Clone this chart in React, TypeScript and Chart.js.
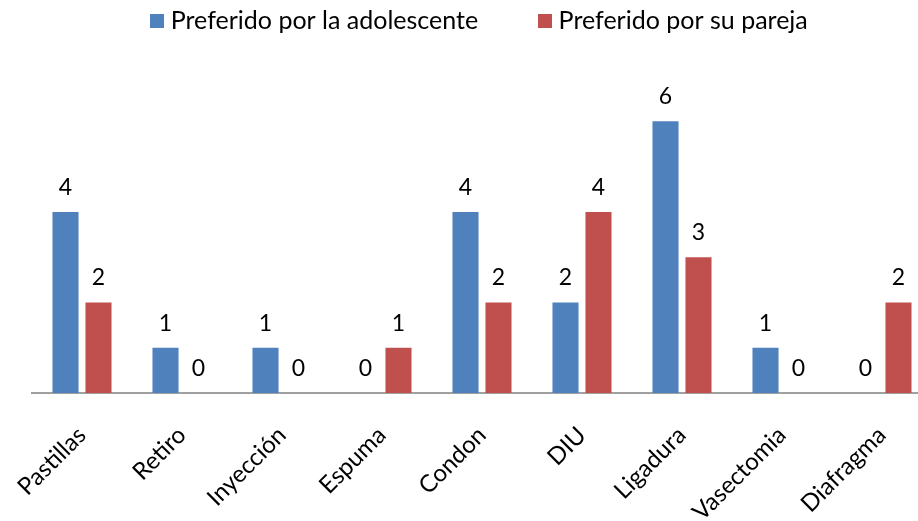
import React, { useEffect, useRef } from "react";
import { Chart, registerables } from "chart.js";

Chart.register(...registerables);

const categories = ["Pastillas", "Retiro", "Inyección", "Espuma", "Condon", "DIU", "Ligadura", "Vasectomia", "Diafragma"];
const adolescente = [4, 1, 1, 0, 4, 2, 6, 1, 0];
const pareja = [2, 0, 0, 1, 2, 4, 3, 0, 2];
const seriesNames = ["Preferido por la adolescente", "Preferido por su pareja"];
const seriesColors = ["#4F81BD", "#C0504D"];

const FONT = "Lato, 'Open Sans', 'DejaVu Sans', sans-serif";

function squareMarker(color: string) {
  const c = document.createElement("canvas");
  c.width = 14;
  c.height = 14;
  const g = c.getContext("2d")!;
  g.fillStyle = color;
  g.fillRect(0, 0, 14, 14);
  return c;
}

const valueLabels = {
  id: "valueLabels",
  afterDatasetsDraw(chart: any) {
    const ctx = chart.ctx;
    ctx.save();
    ctx.font = `23px ${FONT}`;
    ctx.fillStyle = "#000";
    ctx.textAlign = "center";
    ctx.textBaseline = "alphabetic";
    chart.data.datasets.forEach((ds: any, i: number) => {
      const meta = chart.getDatasetMeta(i);
      meta.data.forEach((el: any, j: number) => {
        ctx.fillText(String(ds.data[j]), el.x, el.y - 17);
      });
    });
    ctx.restore();
  },
};

export default function App() {
  const ref = useRef<HTMLCanvasElement>(null);
  useEffect(() => {
    const markers = seriesColors.map(squareMarker);
    const chart = new Chart(ref.current!, {
      type: "bar",
      data: {
        labels: categories,
        datasets: [
          { label: seriesNames[0], data: adolescente, backgroundColor: seriesColors[0] },
          { label: seriesNames[1], data: pareja, backgroundColor: seriesColors[1] },
        ],
      },
      options: {
        animation: false,
        responsive: false,
        maintainAspectRatio: false,
        layout: { padding: { left: 32, right: 0, top: -58, bottom: 0 } },
        datasets: { bar: { categoryPercentage: 0.66, barPercentage: 0.79 } },
        plugins: {
          legend: {
            position: "top",
            labels: {
              font: { family: FONT, size: 25 },
              color: "#000",
              usePointStyle: true,
              boxWidth: 2,
              boxHeight: 14,
              padding: 66,
              generateLabels: (ch: any) =>
                ch.data.datasets.map((ds: any, i: number) => ({
                  text: ds.label,
                  fillStyle: seriesColors[i],
                  strokeStyle: seriesColors[i],
                  lineWidth: 0,
                  pointStyle: markers[i],
                  hidden: false,
                  datasetIndex: i,
                  fontColor: "#000",
                })),
            },
          },
          tooltip: { enabled: false },
        },
        scales: {
          x: {
            grid: { display: false },
            border: { display: true, color: "#A0A0A0", width: 2 },
            ticks: {
              font: { family: FONT, size: 24 },
              color: "#000",
              minRotation: 45,
              maxRotation: 45,
              autoSkip: false,
              padding: 20,
            },
            afterFit: (scale: any) => {
              scale.height = 128;
            },
          },
          y: {
            display: false,
            min: 0,
            max: 7.73,
          },
        },
      },
      plugins: [valueLabels],
    });
    return () => chart.destroy();
  }, []);
  return (
    <div style={{ position: "fixed", left: 0, top: 0, width: 918, height: 521, overflow: "hidden", background: "#fff" }}>
      <canvas ref={ref} width={932} height={521} />
    </div>
  );
}
